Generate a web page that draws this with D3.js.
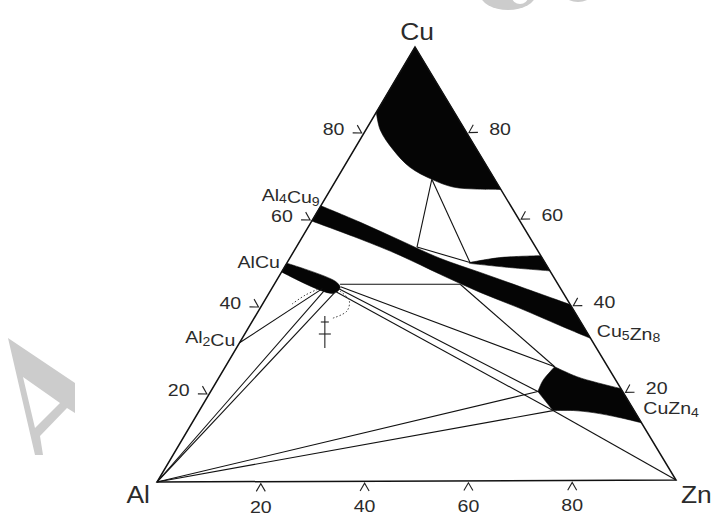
<!DOCTYPE html>
<html>
<head>
<meta charset="utf-8">
<title>Al-Cu-Zn isothermal section</title>
<script src="https://cdn.jsdelivr.net/npm/d3@7"></script>
<style>
	body { margin: 0; background: #fff; }
	svg text { font-family: "Liberation Sans", Arial, Helvetica, sans-serif; fill: #2b2b2b; }
</style>
</head>
<body>
<div id="chart"></div>
<script>
// all compositions are at.% [Zn, Cu], Al is the balance

var ticks = [20, 40, 60, 80];

// Cu-rich solid solution, boundary from Al-Cu edge to Cu-Zn edge
var cuSolution = [[0, 85], [2.8, 80.9], [7.6, 76.3], [12.8, 72.3], [18.4, 69.5], [23.4, 67.7], [28.3, 67.2], [32.9, 67.1]];

// Al4Cu9 / Cu5Zn8 band
var gammaTop = [[0, 63.5], [9.4, 59.7], [19.2, 55.5], [29.0, 51.3], [38.4, 48.0], [47.7, 44.7], [59.5, 40.5]];
var gammaBottom = [[0, 60], [11.4, 55.8], [21.0, 52.0], [30.9, 47.6], [40.7, 43.4], [50.2, 39.7], [59.9, 35.7], [67.3, 32.7]];

// small wedge at the Cu-Zn edge
var wedgeTop = [[35.3, 50.3], [40.5, 51.4], [48.2, 51.8]];
var wedgeBottom = [[51.7, 48.3], [43.6, 49.1], [35.3, 50.1]];

// AlCu band
var etaBand = [[0, 50.3], [11.6, 46.0], [13.1, 44.6], [12.4, 43.3], [0, 48.3]];

// CuZn4 region
var epsTop = [[63.6, 26.2], [69.0, 23.9], [73.6, 22.5], [78.9, 21.1]];
var epsBottom = [[86.8, 13.2], [82.1, 14.4], [76.3, 15.6], [72.2, 16.1], [68.3, 16.1]];
var epsLeft = [[63.2, 20.5], [62.9, 23.0], [63.3, 25.1], [63.6, 26.2]];

// tie lines and three-phase triangles
var tieLines = [
	[[18.4, 69.5], [23.3, 53.9]],
	[[18.4, 69.5], [35.3, 50.3]],
	[[23.3, 53.9], [35.3, 50.3]],
	[[12.7, 45.4], [35.9, 45.3]],
	[[13.1, 44.8], [63.6, 26.2]],
	[[35.9, 45.3], [63.6, 26.2]],
	[[13.1, 44.3], [63.2, 20.5]],
	[[12.9, 43.6], [68.3, 16.1]],
	[[68.3, 16.1], [100, 0]],
	[[0, 0], [63.2, 20.5]],
	[[0, 0], [68.3, 16.1]],
	[[0, 0], [10.4, 44.0]],
	[[0, 0], [12.6, 43.4]],
	[[0, 32], [9.8, 44.4]]
];

// dotted outline round the end of the AlCu band
var dotArcs = [
	[[5.7, 40.9], [7.2, 42.9], [9.0, 44.3]],
	[[13.5, 43.8], [16.3, 41.7], [17.1, 39.2], [15.2, 37.6]]
];
var markSymbol = [[13.4, 38.1], [17.1, 30.7]];

// phase labels: name and Cu at.% on the edge where they sit
var leftNames = ["Al_4Cu_9", "AlCu", "Al_2Cu"];
var leftNameCu = [64.6, 49.2, 31.9];
var rightNames = ["Cu_5Zn_8", "CuZn_4"];
var rightNameCu = [33.0, 15.2];
var cornerNames = ["Al", "Zn", "Cu"];


var W = 712, H = 518;
var AL = [157, 482], ZN = [676, 480], CU = [415, 47];

var znX = d3.scaleLinear().domain([0, 100]).range([0, ZN[0] - AL[0]]),
	znY = d3.scaleLinear().domain([0, 100]).range([0, ZN[1] - AL[1]]),
	cuX = d3.scaleLinear().domain([0, 100]).range([0, CU[0] - AL[0]]),
	cuY = d3.scaleLinear().domain([0, 100]).range([0, CU[1] - AL[1]]);

function pt(d)
{
	return [AL[0] + znX(d[0]) + cuX(d[1]), AL[1] + znY(d[0]) + cuY(d[1])];
}

var smooth = d3.line().x(function(d){ return pt(d)[0]; }).y(function(d){ return pt(d)[1]; })
	.curve(d3.curveCatmullRom.alpha(0.5));
var straight = d3.line().x(function(d){ return pt(d)[0]; }).y(function(d){ return pt(d)[1]; });

// glue several pieces into one closed outline
function outline(parts)
{
	var s = "";
	parts.forEach(function(p, i) {
		var piece = (p[1] ? smooth : straight)(p[0]);
		s += i === 0 ? piece : "L" + piece.slice(1);
	});
	return s + "Z";
}

// text placed with a slight horizontal stretch (the scan is wider than tall)
function label(g, x, y, anchor, sx)
{
	return g.append("text")
		.attr("transform", "translate(" + x + "," + y + ") scale(" + (sx || 1.15) + ",1)")
		.attr("text-anchor", anchor || "start");
}

var svg = d3.select("#chart").append("svg")
	.attr("width", W).attr("height", H)
	.attr("viewBox", "0 0 " + W + " " + H);

// faint watermark bits
var wm = svg.append("g").attr("fill", "#cccccc");
wm.append("path")
	.attr("fill-rule", "evenodd")
	.attr("d", "M8,338 L75,383 L75,413 L67,408 L40,436 L43,455 L35,455 Z M23,377 L60,403 L35,428 Z");
wm.append("ellipse").attr("cx", 508).attr("cy", -6).attr("rx", 28).attr("ry", 16);
wm.append("ellipse").attr("cx", 520).attr("cy", -3).attr("rx", 8).attr("ry", 7).attr("fill", "#fff");
wm.append("ellipse").attr("cx", 578).attr("cy", -4).attr("rx", 12).attr("ry", 6);

// phase fields
var fields = svg.append("g").attr("fill", "#050505").attr("stroke", "#050505").attr("stroke-width", 0.6);
fields.append("path").attr("d", outline([[[[0, 100], [0, 85]], false], [cuSolution, true]]));
fields.append("path").attr("d", outline([[gammaTop, true], [gammaBottom.slice().reverse(), true]]));
fields.append("path").attr("d", outline([[wedgeTop, true], [wedgeBottom, true]]));
fields.append("path").attr("d", outline([[etaBand, true]]));
fields.append("path").attr("d", outline([[epsTop, true], [epsBottom, true], [[[68.3, 16.1], [63.2, 20.5]], false], [epsLeft, true]]));

// tie lines
svg.append("g").selectAll("path").data(tieLines).join("path")
	.attr("d", straight)
	.attr("fill", "none").attr("stroke", "#111").attr("stroke-width", 1.1);

svg.append("g").selectAll("path").data(dotArcs).join("path")
	.attr("d", smooth)
	.attr("fill", "none").attr("stroke", "#444").attr("stroke-width", 1)
	.attr("stroke-dasharray", "1.5,2");

var ms0 = pt(markSymbol[0]), ms1 = pt(markSymbol[1]);
var sym = svg.append("g").attr("stroke", "#222").attr("stroke-width", 1.1);
sym.append("line").attr("x1", ms0[0]).attr("y1", ms0[1]).attr("x2", ms0[0]).attr("y2", ms1[1]);
sym.append("line").attr("x1", ms0[0] - 4).attr("y1", ms0[1] + 6).attr("x2", ms0[0] + 4).attr("y2", ms0[1] + 6);
sym.append("line").attr("x1", ms0[0] - 6).attr("y1", ms0[1] + 18).attr("x2", ms0[0] + 6).attr("y2", ms0[1] + 18);

// the triangle
svg.append("path")
	.attr("d", straight([[0, 0], [100, 0], [0, 100]]) + "Z")
	.attr("fill", "none").attr("stroke", "#111").attr("stroke-width", 1.5)
	.attr("stroke-linejoin", "miter");

// ticks: little chevrons pointing out of each side
function unit(v) { var l = Math.hypot(v[0], v[1]); return [v[0] / l, v[1] / l]; }
function rot(v, a) { var c = Math.cos(a), s = Math.sin(a); return [v[0] * c - v[1] * s, v[0] * s + v[1] * c]; }

var sides = [
	{ at: function(v){ return [v, 0]; }, n: [0, 1], lab: [0, 31], anchor: "middle" },
	{ at: function(v){ return [0, v]; }, n: unit([CU[1] - AL[1], -(CU[0] - AL[0])]), lab: [-19, 1], anchor: "end" },
	{ at: function(v){ return [100 - v, v]; }, n: unit([-(CU[1] - ZN[1]), CU[0] - ZN[0]]), lab: [22, 1], anchor: "start" }
];

var tg = svg.append("g").attr("fill", "none").attr("stroke", "#222").attr("stroke-width", 1.1);
var tl = svg.append("g").attr("font-size", 17);
sides.forEach(function(s) {
	ticks.forEach(function(v) {
		var p = pt(s.at(v));
		var o = [p[0] + s.n[0] * 2, p[1] + s.n[1] * 2];
		var a = rot(s.n, Math.PI / 6), b = rot(s.n, -Math.PI / 6);
		tg.append("path").attr("d", "M" + (o[0] + a[0] * 9) + "," + (o[1] + a[1] * 9) +
			"L" + o[0] + "," + o[1] + "L" + (o[0] + b[0] * 9) + "," + (o[1] + b[1] * 9));
		label(tl, p[0] + s.lab[0], p[1] + s.lab[1], s.anchor).text(v);
	});
});

// chemical formula with subscripts written as _n
function formula(sel, str)
{
	str.split(/(_\d)/).forEach(function(part) {
		if (!part) return;
		if (part[0] === "_") {
			sel.append("tspan").attr("font-size", "0.72em").attr("dy", 2.5).text(part.slice(1));
			sel.append("tspan").attr("dy", -2.5).text("");
		} else {
			sel.append("tspan").text(part);
		}
	});
}

var nl = svg.append("g").attr("font-size", 17);
leftNames.forEach(function(n, i) {
	var p = pt([0, leftNameCu[i]]);
	formula(label(nl, p[0] - 4, p[1], "end"), n);
});
rightNames.forEach(function(n, i) {
	var p = pt([100 - rightNameCu[i], rightNameCu[i]]);
	formula(label(nl, p[0] + 7, p[1]), n);
});

var cl = svg.append("g").attr("font-size", 24);
var pa = pt([0, 0]), pz = pt([100, 0]), pc = pt([0, 100]);
label(cl, pa[0] - 7, pa[1] + 21, "end", 1.1).text(cornerNames[0]);
label(cl, pz[0] + 5, pz[1] + 23, "start", 1.1).text(cornerNames[1]);
label(cl, pc[0] + 2, pc[1] - 7, "middle", 1.1).text(cornerNames[2]);
</script>
</body>
</html>
